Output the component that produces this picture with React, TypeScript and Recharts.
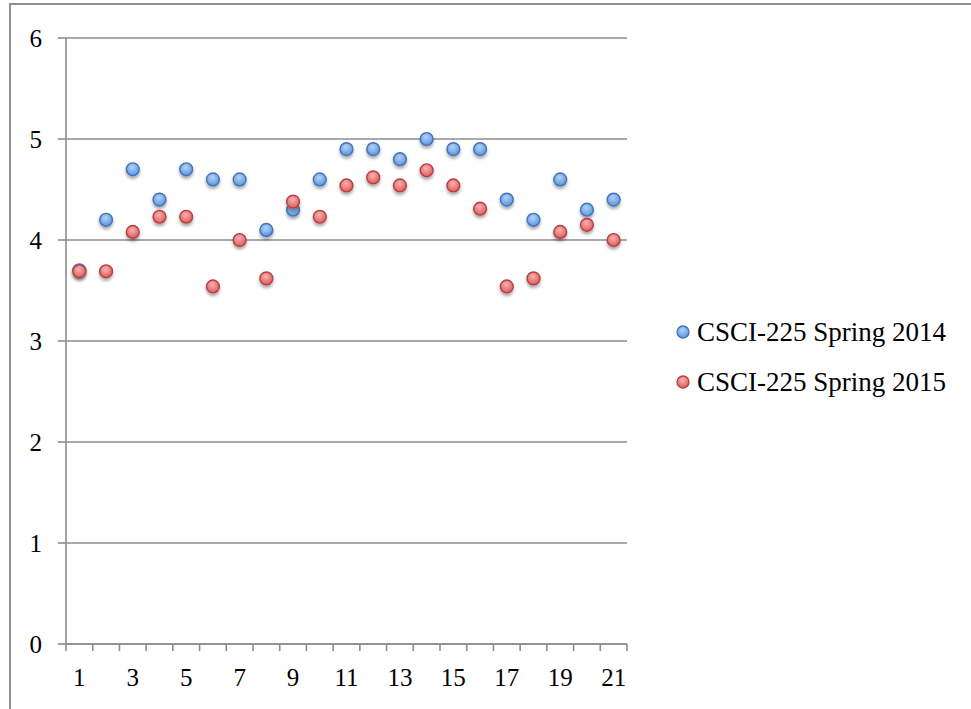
import React from "react";
import { ComposedChart, Line, XAxis, YAxis, CartesianGrid } from "recharts";

const sessions = [1, 2, 3, 4, 5, 6, 7, 8, 9, 10, 11, 12, 13, 14, 15, 16, 17, 18, 19, 20, 21];
const spring2014 = [3.7, 4.2, 4.7, 4.4, 4.7, 4.6, 4.6, 4.1, 4.3, 4.6, 4.9, 4.9, 4.8, 5.0, 4.9, 4.9, 4.4, 4.2, 4.6, 4.3, 4.4];
const spring2015 = [3.69, 3.69, 4.08, 4.23, 4.23, 3.54, 4.0, 3.62, 4.38, 4.23, 4.54, 4.62, 4.54, 4.69, 4.54, 4.31, 3.54, 3.62, 4.08, 4.15, 4.0];
const yTicks = [0, 1, 2, 3, 4, 5, 6];
const xLabelTicks = [1, 3, 5, 7, 9, 11, 13, 15, 17, 19, 21];
const xBoundaryTicks = [0.5, 1.5, 2.5, 3.5, 4.5, 5.5, 6.5, 7.5, 8.5, 9.5, 10.5, 11.5, 12.5, 13.5, 14.5, 15.5, 16.5, 17.5, 18.5, 19.5, 20.5, 21.5];
const seriesNames = ["CSCI-225 Spring 2014", "CSCI-225 Spring 2015"];

const data = sessions.map((n, i) => ({ n, s2014: spring2014[i], s2015: spring2015[i] }));

const FONT = "'Liberation Serif', 'Times New Roman', serif";
const GRID = "#8c8c8c";

const makeDot = (grad: string, stroke: string) => (props: any) => {
  const { cx, cy, index } = props;
  if (cx == null || cy == null) return <g key={index} />;
  return (
    <circle
      key={index}
      cx={cx}
      cy={cy}
      r={6.4}
      fill={`url(#${grad})`}
      stroke={stroke}
      strokeWidth={1.4}
      filter="url(#dotShadow)"
    />
  );
};

const EmptyTick = () => <g />;

const LegendMarker = ({ grad, stroke }: { grad: string; stroke: string }) => (
  <svg width={16} height={16} style={{ display: "block" }}>
    <defs>
      <radialGradient id={`${grad}L`} cx="45%" cy="35%" r="65%">
        <stop offset="0%" stopColor={grad === "gBlue" ? "#b3d3f7" : "#f7b3b3"} />
        <stop offset="100%" stopColor={grad === "gBlue" ? "#5b93dc" : "#de5a5a"} />
      </radialGradient>
    </defs>
    <circle cx={8} cy={8} r={6} fill={`url(#${grad}L)`} stroke={stroke} strokeWidth={1.3} />
  </svg>
);

export default function App() {
  return (
    <div style={{ position: "relative", width: 971, height: 709, overflow: "hidden", background: "#fff" }}>
      <style>{`body{margin:0;}`}</style>
      <div
        style={{
          position: "absolute",
          left: 9,
          top: 3,
          width: 2000,
          height: 2000,
          border: "2px solid #909090",
          boxSizing: "border-box",
        }}
      />
      <div style={{ position: "absolute", left: 0, top: 0 }}>
        <ComposedChart
          width={971}
          height={709}
          data={data}
          margin={{ top: 38, right: 344, bottom: 0, left: 0 }}
        >
          <defs>
            <radialGradient id="gBlue" cx="45%" cy="35%" r="65%">
              <stop offset="0%" stopColor="#b3d3f7" />
              <stop offset="100%" stopColor="#5b93dc" />
            </radialGradient>
            <radialGradient id="gRed" cx="45%" cy="35%" r="65%">
              <stop offset="0%" stopColor="#f7b3b3" />
              <stop offset="100%" stopColor="#de5a5a" />
            </radialGradient>
            <filter id="dotShadow" x="-50%" y="-50%" width="200%" height="220%">
              <feDropShadow dx="0" dy="2.5" stdDeviation="1.8" floodColor="#000" floodOpacity="0.35" />
            </filter>
          </defs>
          <CartesianGrid horizontal vertical={false} stroke={GRID} strokeWidth={1.6} />
          <XAxis
            xAxisId="a"
            type="number"
            dataKey="n"
            domain={[0.5, 21.5]}
            ticks={xBoundaryTicks}
            interval={0}
            tick={<EmptyTick />}
            tickSize={7}
            height={8}
            axisLine={{ stroke: GRID, strokeWidth: 1.6 }}
            tickLine={{ stroke: GRID, strokeWidth: 1.6 }}
            allowDataOverflow
          />
          <XAxis
            xAxisId="b"
            type="number"
            dataKey="n"
            domain={[0.5, 21.5]}
            ticks={xLabelTicks}
            interval={0}
            tickSize={0}
            tickMargin={16}
            height={57}
            axisLine={false}
            tickLine={false}
            tick={{ fill: "#000", fontSize: 25, fontFamily: FONT }}
            allowDataOverflow
          />
          <YAxis
            type="number"
            domain={[0, 6]}
            ticks={yTicks}
            interval={0}
            width={66}
            tickSize={8}
            tickMargin={16}
            axisLine={{ stroke: GRID, strokeWidth: 1.6 }}
            tickLine={{ stroke: GRID, strokeWidth: 1.6 }}
            tick={{ fill: "#000", fontSize: 25, fontFamily: FONT }}
          />
          <Line
            xAxisId="b"
            dataKey="s2014"
            name={seriesNames[0]}
            stroke="none"
            dot={makeDot("gBlue", "#3f72bd")}
            activeDot={false}
            isAnimationActive={false}
          />
          <Line
            xAxisId="b"
            dataKey="s2015"
            name={seriesNames[1]}
            stroke="none"
            dot={makeDot("gRed", "#b93e3e")}
            activeDot={false}
            isAnimationActive={false}
          />
        </ComposedChart>
      </div>
      <div
        style={{
          position: "absolute",
          left: 675,
          top: 313,
          fontFamily: FONT,
          fontSize: 27,
          color: "#000",
          lineHeight: "50px",
        }}
      >
        {seriesNames.map((name, i) => (
          <div key={name} style={{ display: "flex", alignItems: "center", height: 50, marginTop: i === 0 ? -6 : 0 }}>
            <LegendMarker grad={i === 0 ? "gBlue" : "gRed"} stroke={i === 0 ? "#3f72bd" : "#b93e3e"} />
            <span style={{ marginLeft: 6, whiteSpace: "nowrap" }}>{name}</span>
          </div>
        ))}
      </div>
    </div>
  );
}
